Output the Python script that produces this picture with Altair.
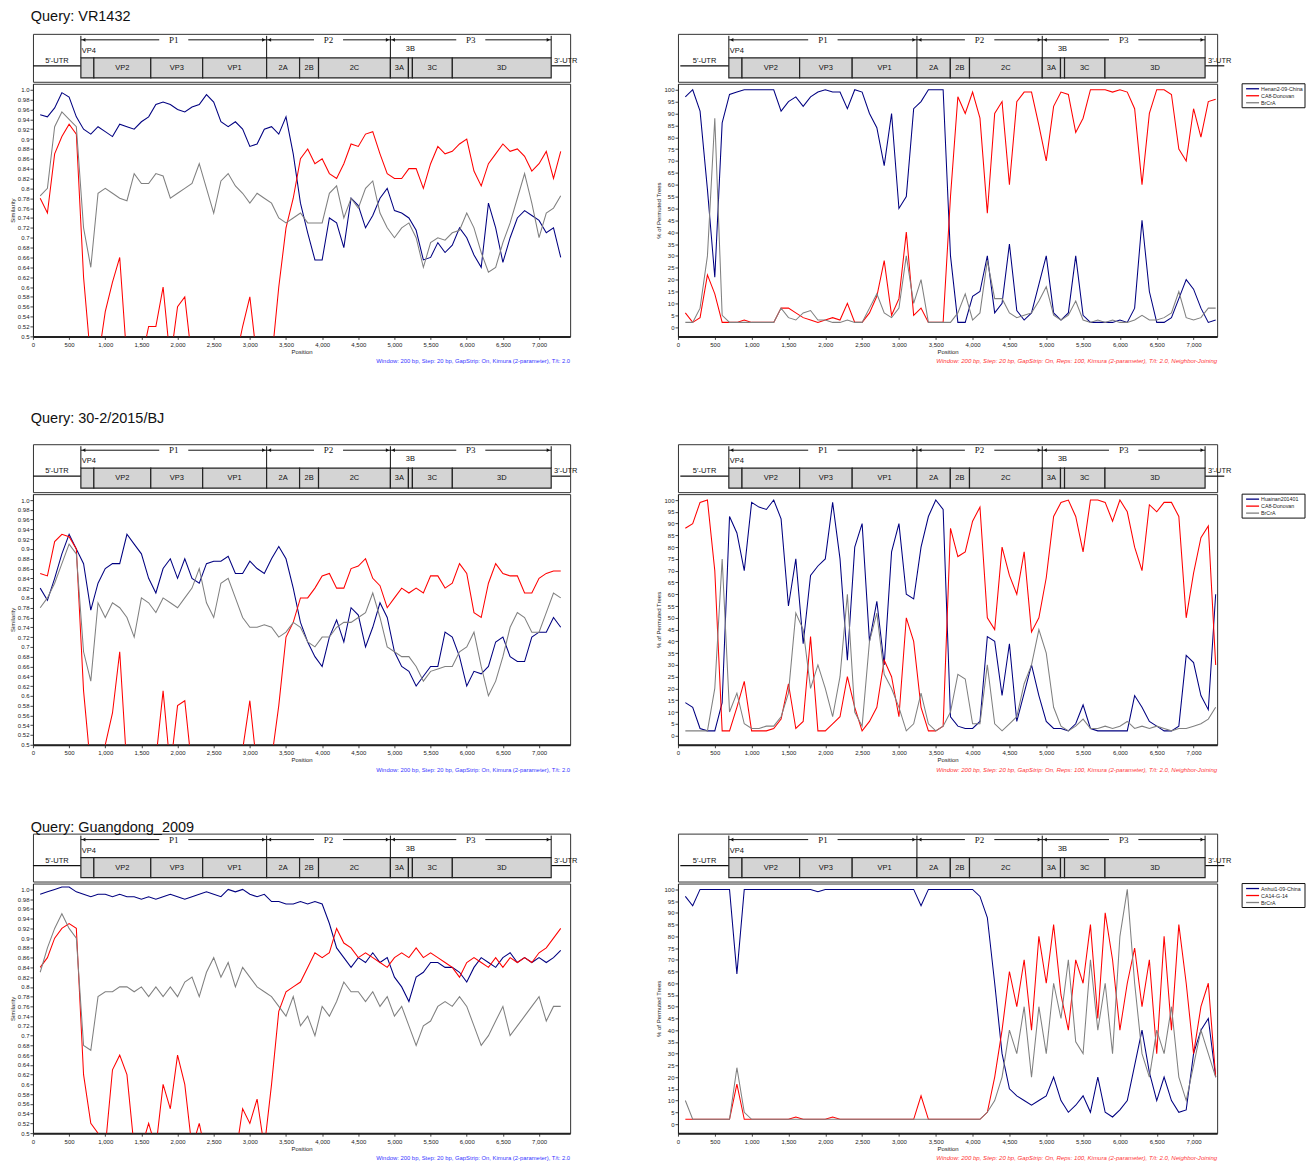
import altair as alt
import pandas as pd

POS = list(range(100, 7301, 100))

# ---------------- Row 1 : VR1432 ----------------
R1_NAMES = ["Henan2-09-China", "CA8-Donovan", "BrCrA"]
R1_SIM_BLUE = [0.949, 0.945, 0.963, 0.994, 0.985, 0.945, 0.92, 0.91, 0.925, 0.915,
               0.905, 0.93, 0.925, 0.92, 0.935, 0.945, 0.97, 0.975, 0.97, 0.96,
               0.955, 0.965, 0.97, 0.99, 0.975, 0.935, 0.925, 0.935, 0.92, 0.885,
               0.89, 0.92, 0.925, 0.91, 0.945, 0.87, 0.77, 0.71, 0.655, 0.655,
               0.74, 0.73, 0.68, 0.78, 0.765, 0.72, 0.745, 0.78, 0.80, 0.755,
               0.75, 0.74, 0.715, 0.655, 0.66, 0.69, 0.67, 0.685, 0.72, 0.70,
               0.665, 0.64, 0.77, 0.72, 0.65, 0.70, 0.74, 0.755, 0.745, 0.735,
               0.71, 0.72, 0.66]
R1_SIM_RED = [0.78, 0.75, 0.87, 0.905, 0.93, 0.91, 0.62, 0.45, 0.45, 0.55,
              0.61, 0.66, 0.45, 0.45, 0.45, 0.52, 0.52, 0.60, 0.45, 0.56,
              0.58, 0.45, 0.45, 0.45, 0.45, 0.45, 0.45, 0.45, 0.52, 0.58,
              0.45, 0.45, 0.45, 0.60, 0.72, 0.78, 0.86, 0.88, 0.85, 0.86,
              0.83, 0.82, 0.85, 0.89, 0.885, 0.91, 0.915, 0.87, 0.83, 0.82,
              0.82, 0.84, 0.84, 0.80, 0.85, 0.885, 0.87, 0.875, 0.89, 0.90,
              0.835, 0.805, 0.85, 0.87, 0.89, 0.875, 0.88, 0.865, 0.835, 0.85,
              0.875, 0.82, 0.875]
R1_SIM_GRAY = [0.785, 0.80, 0.925, 0.955, 0.94, 0.925, 0.72, 0.64, 0.79, 0.80,
               0.79, 0.78, 0.775, 0.83, 0.81, 0.81, 0.83, 0.825, 0.78, 0.79,
               0.80, 0.81, 0.85, 0.80, 0.75, 0.815, 0.83, 0.805, 0.79, 0.77,
               0.79, 0.78, 0.77, 0.74, 0.73, 0.74, 0.75, 0.73, 0.73, 0.73,
               0.79, 0.805, 0.74, 0.78, 0.76, 0.80, 0.815, 0.75, 0.72, 0.70,
               0.72, 0.73, 0.70, 0.64, 0.69, 0.70, 0.695, 0.71, 0.715, 0.75,
               0.72, 0.67, 0.63, 0.64, 0.69, 0.73, 0.78, 0.83, 0.77, 0.70,
               0.75, 0.76, 0.785]
R1_BOOT_BLUE = [97, 100, 91, 58, 21, 86, 98, 99, 100, 100,
                100, 100, 100, 91, 95, 97, 93, 97, 99, 100,
                99, 99, 92, 100, 99, 90, 84, 68, 90, 50,
                55, 92, 95, 100, 100, 100, 30, 2, 2, 13,
                15, 30, 6, 10, 35, 7, 3, 6, 18, 30,
                6, 3, 6, 30, 5, 2, 2, 2, 2, 3,
                2, 8, 45, 15, 2, 2, 4, 12, 20, 16,
                8, 2, 3]
R1_BOOT_RED = [6, 2, 4, 22, 14, 2, 2, 2, 3, 2,
               2, 2, 2, 8, 8, 6, 4, 3, 2, 3,
               4, 3, 10, 2, 2, 6, 13, 28, 5, 12,
               40, 5, 8, 2, 2, 2, 55, 97, 90, 99,
               88, 48, 90, 95, 60, 95, 99, 99, 85, 70,
               93, 99, 98, 82, 88, 100, 100, 100, 99, 100,
               99, 92, 60, 90, 100, 100, 98, 75, 70, 92,
               80, 95, 96]
R1_BOOT_GRAY = [2, 2, 8, 30, 88, 5, 2, 2, 2, 2,
                2, 2, 2, 8, 4, 3, 6, 7, 3, 3,
                2, 2, 3, 2, 2, 8, 14, 6, 4, 8,
                30, 10, 20, 2, 2, 2, 2, 6, 14, 3,
                6, 28, 12, 12, 6, 4, 5, 6, 11, 17,
                5, 3, 5, 11, 3, 2, 3, 2, 3, 2,
                2, 3, 5, 3, 3, 4, 6, 15, 4, 3,
                4, 8, 8]

# ---------------- Row 2 : 30-2/2015/BJ ----------------
R2_NAMES = ["Huainan201401", "CA8-Donovan", "BrCrA"]
R2_SIM_BLUE = [0.82, 0.795, 0.84, 0.89, 0.93, 0.90, 0.87, 0.775, 0.83, 0.86,
               0.87, 0.87, 0.93, 0.91, 0.89, 0.84, 0.81, 0.86, 0.88, 0.84,
               0.88, 0.84, 0.83, 0.87, 0.875, 0.875, 0.885, 0.85, 0.85, 0.875,
               0.86, 0.85, 0.88, 0.905, 0.88, 0.82, 0.75, 0.71, 0.68, 0.66,
               0.72, 0.755, 0.71, 0.78, 0.765, 0.70, 0.74, 0.79, 0.76, 0.69,
               0.66, 0.65, 0.62, 0.64, 0.66, 0.66, 0.73, 0.72, 0.68, 0.62,
               0.65, 0.645, 0.66, 0.71, 0.72, 0.68, 0.67, 0.67, 0.72, 0.73,
               0.73, 0.76, 0.74]
R2_SIM_RED = [0.85, 0.845, 0.915, 0.93, 0.925, 0.90, 0.61, 0.45, 0.47, 0.50,
              0.565, 0.69, 0.45, 0.45, 0.45, 0.49, 0.47, 0.61, 0.45, 0.58,
              0.59, 0.45, 0.49, 0.45, 0.45, 0.45, 0.45, 0.48, 0.49, 0.59,
              0.45, 0.45, 0.47, 0.58, 0.72, 0.75, 0.80, 0.80, 0.82, 0.845,
              0.85, 0.82, 0.82, 0.86, 0.865, 0.88, 0.84, 0.825, 0.78, 0.80,
              0.82, 0.81, 0.82, 0.81, 0.845, 0.845, 0.82, 0.83, 0.87, 0.85,
              0.77, 0.76, 0.83, 0.87, 0.85, 0.845, 0.845, 0.81, 0.81, 0.84,
              0.85, 0.855, 0.855]
R2_SIM_GRAY = [0.78, 0.80, 0.83, 0.87, 0.91, 0.89, 0.69, 0.63, 0.79, 0.76,
               0.79, 0.78, 0.76, 0.72, 0.80, 0.79, 0.77, 0.80, 0.79, 0.78,
               0.80, 0.82, 0.86, 0.79, 0.76, 0.83, 0.84, 0.80, 0.76, 0.74,
               0.74, 0.745, 0.74, 0.72, 0.73, 0.75, 0.74, 0.71, 0.70, 0.72,
               0.72, 0.74, 0.75, 0.75, 0.76, 0.77, 0.81, 0.76, 0.70, 0.69,
               0.68, 0.68, 0.66, 0.63, 0.65, 0.655, 0.66, 0.66, 0.69, 0.70,
               0.73, 0.66, 0.60, 0.63, 0.68, 0.74, 0.77, 0.76, 0.73, 0.73,
               0.77, 0.81, 0.80]
R2_BOOT_BLUE = [14, 12, 3, 2, 2, 14, 93, 86, 70, 99,
                97, 96, 100, 92, 55, 75, 39, 68, 72, 75,
                99, 75, 32, 80, 90, 40, 57, 30, 78, 90,
                60, 58, 80, 93, 100, 96, 8, 4, 3, 3,
                6, 42, 40, 17, 39, 6, 18, 30, 17, 6,
                3, 3, 2, 5, 13, 3, 2, 2, 2, 2,
                2, 17, 12, 6, 4, 2, 2, 4, 34, 31,
                17, 11, 60]
R2_BOOT_RED = [88, 90, 99, 100, 70, 2, 2, 12, 23, 2,
               2, 2, 3, 7, 22, 3, 6, 42, 2, 2,
               5, 8, 25, 12, 2, 6, 12, 32, 25, 8,
               50, 40, 12, 2, 2, 4, 88, 76, 78, 91,
               97, 50, 45, 80, 68, 60, 78, 44, 50, 67,
               93, 99, 100, 93, 78, 100, 100, 99, 91, 100,
               95, 80, 70, 98, 95, 99, 99, 93, 50, 69,
               84, 89, 30]
R2_BOOT_GRAY = [2, 2, 2, 2, 20, 75, 10, 18, 5, 3,
                3, 4, 4, 8, 18, 52, 45, 20, 30, 20,
                8, 25, 60, 10, 4, 40, 52, 26, 20, 12,
                2, 5, 18, 5, 2, 4, 10, 26, 24, 5,
                5, 30, 5, 2, 5, 8, 22, 30, 45, 35,
                12, 4, 2, 4, 7, 3, 3, 4, 3, 4,
                6, 3, 4, 3, 4, 3, 2, 3, 3, 4,
                5, 7, 12]

# ---------------- Row 3 : Guangdong_2009 ----------------
R3_NAMES = ["Anhui1-09-China", "CA14-G-14", "BrCrA"]
R3_SIM_BLUE = [0.99, 0.995, 1.0, 1.005, 1.005, 0.995, 0.99, 0.985, 0.99, 0.99,
               0.985, 0.99, 0.985, 0.985, 0.98, 0.985, 0.98, 0.985, 0.99, 0.985,
               0.98, 0.985, 0.99, 0.995, 0.99, 0.985, 1.0, 0.995, 1.0, 0.99,
               0.985, 0.99, 0.975, 0.975, 0.97, 0.97, 0.975, 0.97, 0.975, 0.97,
               0.93, 0.88, 0.86, 0.84, 0.86, 0.85, 0.87, 0.85, 0.86, 0.82,
               0.80, 0.77, 0.82, 0.83, 0.85, 0.85, 0.84, 0.84, 0.83, 0.81,
               0.84, 0.86, 0.85, 0.84, 0.86, 0.87, 0.85, 0.86, 0.85, 0.86,
               0.85, 0.86, 0.875]
R3_SIM_RED = [0.84, 0.86, 0.90, 0.92, 0.93, 0.92, 0.62, 0.52, 0.50, 0.47,
              0.63, 0.66, 0.62, 0.47, 0.47, 0.52, 0.47, 0.60, 0.55, 0.66,
              0.60, 0.47, 0.52, 0.45, 0.45, 0.45, 0.45, 0.45, 0.55, 0.52,
              0.57, 0.47, 0.60, 0.75, 0.79, 0.80, 0.81, 0.84, 0.87, 0.86,
              0.87, 0.92, 0.89, 0.88, 0.86, 0.87, 0.86, 0.85, 0.84, 0.86,
              0.87, 0.86, 0.88, 0.86, 0.87, 0.86, 0.85, 0.84, 0.82, 0.85,
              0.86, 0.85, 0.84, 0.86, 0.84, 0.86, 0.85, 0.86, 0.85, 0.87,
              0.88, 0.90, 0.92]
R3_SIM_GRAY = [0.83, 0.88, 0.92, 0.95, 0.92, 0.90, 0.68, 0.67, 0.78, 0.79,
               0.79, 0.80, 0.80, 0.79, 0.80, 0.78, 0.80, 0.78, 0.80, 0.78,
               0.81, 0.82, 0.78, 0.83, 0.86, 0.82, 0.85, 0.80, 0.84, 0.82,
               0.80, 0.79, 0.78, 0.76, 0.74, 0.78, 0.72, 0.74, 0.70, 0.76,
               0.74, 0.77, 0.81, 0.79, 0.79, 0.77, 0.79, 0.76, 0.78, 0.74,
               0.76, 0.72, 0.68, 0.72, 0.73, 0.76, 0.77, 0.76, 0.78, 0.76,
               0.72, 0.68, 0.70, 0.73, 0.76, 0.70, 0.72, 0.74, 0.76, 0.78,
               0.73, 0.76, 0.76]
R3_BOOT_BLUE = [97, 93, 100, 100, 100, 100, 100, 64, 100, 100,
                100, 100, 100, 100, 100, 100, 100, 100, 99, 100,
                100, 100, 100, 100, 100, 100, 100, 100, 100, 100,
                100, 100, 93, 100, 100, 100, 100, 100, 100, 100,
                97, 88, 60, 30, 15, 12, 10, 8, 10, 12,
                20, 10, 5, 8, 12, 5, 20, 5, 3, 6,
                10, 25, 40, 22, 10, 20, 10, 5, 6, 30,
                40, 45, 20]
R3_BOOT_RED = [2, 2, 2, 2, 2, 2, 2, 17, 2, 2,
               2, 2, 2, 2, 2, 3, 2, 2, 2, 2,
               3, 2, 2, 2, 2, 2, 2, 2, 2, 2,
               2, 2, 12, 2, 2, 2, 2, 2, 2, 2,
               2, 5, 20, 40, 65, 50, 70, 40, 80, 60,
               85, 55, 40, 70, 60, 85, 45, 90, 70, 40,
               60, 75, 50, 70, 30, 80, 40, 85, 60, 30,
               50, 60, 20]
R3_BOOT_GRAY = [10, 2, 2, 2, 2, 2, 2, 24, 5, 2,
                2, 2, 2, 2, 2, 2, 2, 2, 2, 2,
                2, 2, 2, 2, 2, 2, 2, 2, 2, 2,
                2, 2, 2, 2, 2, 2, 2, 2, 2, 2,
                2, 5, 10, 20, 40, 30, 50, 20, 50, 30,
                60, 45, 70, 35, 30, 70, 40, 60, 30, 80,
                100, 60, 30, 20, 40, 30, 50, 20, 10, 25,
                40, 30, 20]

QUERIES = ["Query: VR1432", "Query: 30-2/2015/BJ", "Query: Guangdong_2009"]

# ---------------- genome map ----------------
SEG_NAMES = ["VP4", "VP2", "VP3", "VP1", "2A", "2B", "2C", "3A", "3B", "3C", "3D"]
SEG_START = [660, 839, 1623, 2338, 3219, 3673, 3934, 4924, 5172, 5227, 5777]
SEG_END = [839, 1623, 2338, 3219, 3673, 3934, 4924, 5172, 5227, 5777, 7139]
REGION_NAMES = ["P1", "P2", "P3"]
REGION_START = [660, 3219, 4924]
REGION_END = [3219, 4924, 7139]
UTR_NAMES = ["5'-UTR", "3'-UTR"]
UTR_START = [0, 7139]
UTR_END = [660, 7400]

FOOT_SIM = "Window: 200 bp, Step: 20 bp, GapStrip: On, Kimura (2-parameter), T/t: 2.0"
FOOT_BOOT = ("Window: 200 bp, Step: 20 bp, GapStrip: On, Reps: 100, "
             "Kimura (2-parameter), T/t: 2.0, Neighbor-Joining")

COLORS = ["#000080", "#ff0000", "#808080"]
LEFT_X_DOMAIN = [0, 7430]
RIGHT_X_DOMAIN = [0, 7320]
LW = 538
RW = 540
DIAG_H = 48
FONT = "Liberation Sans"
LEFT_MAP_DOMAIN = [0, 7400]
RIGHT_MAP_DOMAIN = [-32, 7303]


def xs(domain):
    return alt.Scale(domain=domain, nice=False, zero=False)


def diagram(width, domain):
    def X(field):
        return alt.X(field + ":Q", scale=xs(domain), axis=None)

    seg = pd.DataFrame({"name": SEG_NAMES, "start": SEG_START, "end": SEG_END})
    seg["mid"] = (seg["start"] + seg["end"]) / 2
    inside = seg[~seg["name"].isin(["VP4", "3B"])]
    vp4 = seg[seg["name"] == "VP4"]
    b3 = seg[seg["name"] == "3B"]
    reg = pd.DataFrame({"name": REGION_NAMES, "start": REGION_START, "end": REGION_END})
    reg["mid"] = (reg["start"] + reg["end"]) / 2
    reg["gl"] = reg["mid"] - 200
    reg["gr"] = reg["mid"] + 200
    reg["hs"] = reg["start"] + 40
    reg["he"] = reg["end"] - 40
    bnd = pd.DataFrame({"b": REGION_START + [REGION_END[-1]]})
    utr = pd.DataFrame({"name": UTR_NAMES, "start": UTR_START, "end": UTR_END})
    utr["mid"] = (utr["start"] + utr["end"]) / 2
    utr["lx"] = utr["start"] + 40
    utr5 = utr[utr["name"] == "5'-UTR"]
    utr3 = utr[utr["name"] == "3'-UTR"]

    layers = [
        alt.Chart(utr).mark_rule(color="#111", strokeWidth=1.2).encode(
            x=X("start"), x2="end", y=alt.value(32)),
        alt.Chart(seg).mark_rect(fill="#d4d4d4", stroke="#222", strokeWidth=1.2).encode(
            x=X("start"), x2="end", y=alt.value(24), y2=alt.value(44)),
        alt.Chart(inside).mark_text(fontSize=7.5, font=FONT, baseline="middle", color="#111").encode(
            x=X("mid"), y=alt.value(34), text="name:N"),
        alt.Chart(vp4).mark_text(fontSize=7.5, font=FONT, baseline="middle", align="left", dx=1, color="#111").encode(
            x=X("start"), y=alt.value(17), text="name:N"),
        alt.Chart(b3).mark_text(fontSize=7.5, font=FONT, baseline="middle", color="#111").encode(
            x=X("mid"), y=alt.value(15), text="name:N"),
        alt.Chart(bnd).mark_rule(color="#111", strokeWidth=1).encode(
            x=X("b"), y=alt.value(2), y2=alt.value(24)),
        alt.Chart(reg).mark_rule(color="#111", strokeWidth=1).encode(
            x=X("start"), x2="gl", y=alt.value(6)),
        alt.Chart(reg).mark_rule(color="#111", strokeWidth=1).encode(
            x=X("gr"), x2="end", y=alt.value(6)),
        alt.Chart(reg).mark_point(shape="triangle-left", filled=True, size=14, color="#111", opacity=1).encode(
            x=X("hs"), y=alt.value(6)),
        alt.Chart(reg).mark_point(shape="triangle-right", filled=True, size=14, color="#111", opacity=1).encode(
            x=X("he"), y=alt.value(6)),
        alt.Chart(reg).mark_text(font="Liberation Serif", fontSize=9, baseline="middle", color="#111").encode(
            x=X("mid"), y=alt.value(6), text="name:N"),
        alt.Chart(utr5).mark_text(fontSize=7.5, font=FONT, baseline="bottom", color="#111").encode(
            x=X("mid"), y=alt.value(31), text="name:N"),
        alt.Chart(utr3).mark_text(fontSize=7.5, font=FONT, baseline="bottom", align="left", color="#111").encode(
            x=X("lx"), y=alt.value(31), text="name:N"),
    ]
    return alt.layer(*layers).properties(width=width, height=DIAG_H)


def frame(blue, red, gray, names):
    n = len(POS)
    return pd.DataFrame({
        "pos": POS * 3,
        "value": list(blue) + list(red) + list(gray),
        "series": [names[0]] * n + [names[1]] * n + [names[2]] * n,
    })


def x_axis():
    return alt.Axis(values=list(range(0, 7001, 500)), format=",.0f", title="Position",
                    labelFlush=False, titlePadding=1, labelPadding=2)


def sim_plot(blue, red, gray, names, height):
    df = frame(blue, red, gray, names)
    ticks = [round(0.5 + 0.02 * i, 2) for i in range(26)]
    return alt.Chart(df).mark_line(strokeWidth=1.05, clip=True).encode(
        x=alt.X("pos:Q", scale=xs(LEFT_X_DOMAIN), axis=x_axis()),
        y=alt.Y("value:Q", scale=alt.Scale(domain=[0.5, 1.012], nice=False, zero=False),
                axis=alt.Axis(values=ticks, title="Similarity", titlePadding=2, labelPadding=1,
                              labelExpr="datum.value >= 0.999 ? '1.0' : format(datum.value, '.2~f')")),
        color=alt.Color("series:N", scale=alt.Scale(domain=names, range=COLORS), legend=None),
    ).properties(
        width=LW, height=height,
        title=alt.TitleParams(FOOT_SIM, orient="bottom", anchor="end", frame="group",
                              fontSize=5.9, color="#3535ff", fontWeight="normal", font=FONT, offset=4),
    )


def boot_plot(blue, red, gray, names, height):
    df = frame(blue, red, gray, names)
    lines = alt.Chart(df).mark_line(strokeWidth=1.05, clip=True).encode(
        x=alt.X("pos:Q", scale=xs(RIGHT_X_DOMAIN), axis=x_axis()),
        y=alt.Y("value:Q", scale=alt.Scale(domain=[-3.9, 102.5], nice=False, zero=False),
                axis=alt.Axis(values=list(range(0, 101, 5)), title="% of Permuted Trees",
                              titlePadding=2, labelPadding=1)),
        color=alt.Color("series:N", scale=alt.Scale(domain=names, range=COLORS), legend=None),
    )
    lx0 = RW + 25
    leg = [alt.Chart(pd.DataFrame({"k": [0]})).mark_rect(
        fill="white", stroke="#111", strokeWidth=1).encode(
        x=alt.value(lx0), x2=alt.value(lx0 + 63), y=alt.value(0), y2=alt.value(24))]
    for i, (nm, col) in enumerate(zip(names, COLORS)):
        d = pd.DataFrame({"name": [nm]})
        leg.append(alt.Chart(d).mark_rule(color=col, strokeWidth=1.3).encode(
            x=alt.value(lx0 + 4), x2=alt.value(lx0 + 17), y=alt.value(5 + 7 * i)))
        leg.append(alt.Chart(d).mark_text(fontSize=5.3, font=FONT, align="left", baseline="middle",
                                          color="#222").encode(
            x=alt.value(lx0 + 19), y=alt.value(5 + 7 * i), text="name:N"))
    return alt.layer(lines, *leg).properties(
        width=RW, height=height,
        title=alt.TitleParams(FOOT_BOOT, orient="bottom", anchor="end", frame="group",
                              fontSize=6.1, color="#ff3535", fontStyle="italic",
                              fontWeight="normal", font=FONT, offset=4),
    )


def row(query, sims, boots, names, height, toff):
    left = alt.vconcat(diagram(LW, LEFT_MAP_DOMAIN), sim_plot(*sims, names, height), spacing=0)
    right = alt.vconcat(diagram(RW, RIGHT_MAP_DOMAIN), boot_plot(*boots, names, height), spacing=0)
    return alt.hconcat(left, right, spacing=77).resolve_scale(color="independent").properties(
        title=alt.TitleParams(query, anchor="start", fontSize=14.5, fontWeight="normal",
                              font=FONT, color="#111", offset=toff, dx=22))


row1 = row(QUERIES[0], (R1_SIM_BLUE, R1_SIM_RED, R1_SIM_GRAY),
           (R1_BOOT_BLUE, R1_BOOT_RED, R1_BOOT_GRAY), R1_NAMES, 253, 9)
row2 = row(QUERIES[1], (R2_SIM_BLUE, R2_SIM_RED, R2_SIM_GRAY),
           (R2_BOOT_BLUE, R2_BOOT_RED, R2_BOOT_GRAY), R2_NAMES, 251, 17)
row3 = row(QUERIES[2], (R3_SIM_BLUE, R3_SIM_RED, R3_SIM_GRAY),
           (R3_BOOT_BLUE, R3_BOOT_RED, R3_BOOT_GRAY), R3_NAMES, 250, -2)

chart = alt.vconcat(row1, row2, row3, spacing=46).resolve_scale(color="independent").properties(
    padding=0
).configure(font=FONT).configure_view(stroke="#333", strokeWidth=1).configure_axis(
    grid=False, labelFontSize=6, titleFontSize=6, titleFontWeight="normal",
    labelColor="#222", titleColor="#222", tickSize=3, tickColor="#444",
    domainColor="#222", labelFont=FONT, titleFont=FONT,
).configure_axisBottom(domainWidth=2)

chart.save("out.html", embed_options={"renderer": "svg", "actions": False})
